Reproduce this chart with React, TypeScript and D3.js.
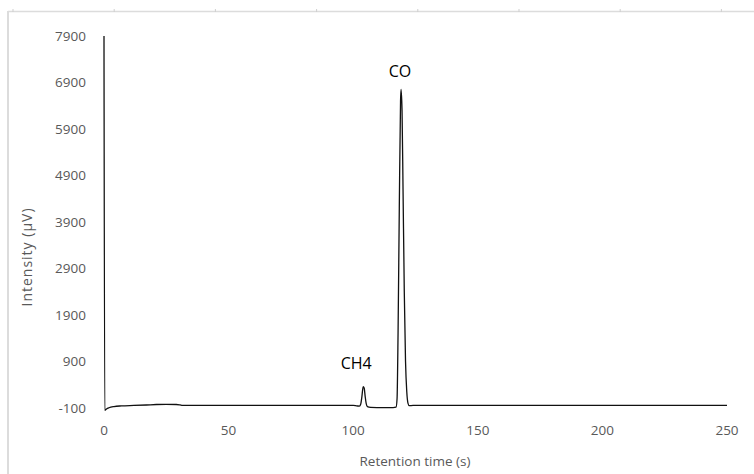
import React, { useEffect } from "react";
import * as d3 from "d3";

const W = 754;
const H = 474;

// Chromatogram trace (retention time in s, intensity in µV)
const times: number[] = [
  0, 0.3, 1, 2, 4, 7, 12, 17, 21, 25, 29, 30.5, 31.5, 50, 75, 100,
  101.5, 102.5, 103, 103.5, 104, 104.4, 104.8, 105.2, 105.7, 107, 112, 116, 117.2,
  117.6, 118, 118.5, 119, 119.2, 119.6, 120, 120.5, 121, 121.5, 122, 122.5, 124,
  150, 200, 250,
];
const intensity: number[] = [
  7900, -150, -120, -95, -70, -55, -45, -35, -25, -22, -25, -35, -45, -45, -45, -45,
  -55, -60, -20, 150, 360, 330, 150, 0, -70, -85, -90, -90, -80,
  100, 1500, 4200, 6500, 6750, 6300, 4600, 2400, 900, 250, 0, -50, -45,
  -45, -45, -45,
];

const xTicks: number[] = [0, 50, 100, 150, 200, 250];
const yTicks: number[] = [-100, 900, 1900, 2900, 3900, 4900, 5900, 6900, 7900];

const peakLabels: string[] = ["CH4", "CO"];
const peakTimes: number[] = [104.4, 119.2];
const peakValues: number[] = [360, 6750];

const xTitle = "Retention time (s)";
const yTitle = "Intensity (µV)";

export default function App() {
  useEffect(() => {
    document.body.style.margin = "0";
  }, []);

  const x = d3.scaleLinear().domain([0, 250]).range([104, 727]);
  const y = d3.scaleLinear().domain([-100, 7900]).range([408, 36]);

  const pts: [number, number][] = times.map((t, i) => [t, intensity[i]]);
  const line = d3
    .line<[number, number]>()
    .x((d) => x(d[0]))
    .y((d) => y(d[1]))
    .curve(d3.curveMonotoneX);

  const rulerTicks = d3.range(13, W, 101.2);
  const font = "'Open Sans', 'Noto Sans', sans-serif";

  return (
    <svg width={W} height={H} style={{ display: "block", background: "#fff" }}>
      {/* frame */}
      <line x1={8} x2={W} y1={11.5} y2={11.5} stroke="#dcdcdc" strokeWidth={1.5} />
      <line x1={8} x2={8} y1={11} y2={H} stroke="#dcdcdc" strokeWidth={2} />
      {rulerTicks.map((tx, i) => (
        <line key={i} x1={tx} x2={tx} y1={9} y2={12} stroke="#cfcfcf" strokeWidth={1} />
      ))}

      {/* y tick labels */}
      {yTicks.map((v) => (
        <text
          key={v}
          x={86}
          y={y(v)}
          dy="0.35em"
          textAnchor="end"
          fontFamily={font}
          fontSize={13.5}
          fill="#595959"
        >
          {v}
        </text>
      ))}

      {/* x tick labels */}
      {xTicks.map((v) => (
        <text
          key={v}
          x={x(v)}
          y={430}
          dy="0.35em"
          textAnchor="middle"
          fontFamily={font}
          fontSize={13.5}
          fill="#595959"
        >
          {v}
        </text>
      ))}

      {/* axis titles */}
      <text
        x={415}
        y={461}
        dy="0.35em"
        textAnchor="middle"
        fontFamily={font}
        fontSize={13.5}
        fill="#595959"
      >
        {xTitle}
      </text>
      <text
        transform={`translate(27,257) rotate(-90)`}
        dy="0.35em"
        textAnchor="middle"
        fontFamily={font}
        fontSize={14}
        letterSpacing={1}
        fill="#595959"
      >
        {yTitle}
      </text>

      {/* trace */}
      <path d={line(pts) || ""} fill="none" stroke="#111" strokeWidth={1.3} strokeLinejoin="round" />

      {/* peak labels */}
      {peakLabels.map((lab, i) => (
        <text
          key={lab}
          x={x(peakTimes[i]) - (i === 0 ? 8 : 1)}
          y={y(peakValues[i]) - (i === 0 ? 18 : 12)}
          textAnchor="middle"
          fontFamily={font}
          fontSize={16}
          fill="#000"
        >
          {lab}
        </text>
      ))}
    </svg>
  );
}
